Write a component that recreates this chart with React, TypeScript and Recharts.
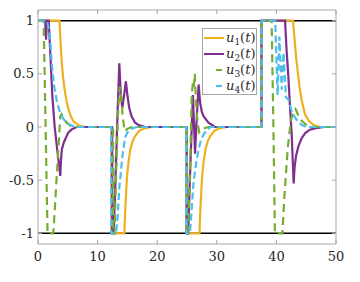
import React from 'react';
import { LineChart, Line, XAxis, YAxis } from 'recharts';

type P = [number, number];

// time ticks and value ticks
const xTicks = [0, 10, 20, 30, 40, 50];
const yTicks = [-1, -0.5, 0, 0.5, 1];

// saturation bounds
const upperBound: P[] = [[0, 1], [50, 1]];
const lowerBound: P[] = [[0, -1], [50, -1]];

// u1(t)
const u1: P[] = [
  [0, 1], [3.6, 1], [3.7, 0.9], [3.8, 0.78], [4.0, 0.6], [4.2, 0.47], [4.5, 0.34], [4.8, 0.24],
  [5.1, 0.17], [5.5, 0.1], [6.0, 0.05], [7.0, 0.01], [8.0, 0],
  [12.3, 0], [12.3, -1], [14.5, -1], [14.55, -0.9], [14.65, -0.77], [14.8, -0.6], [14.95, -0.46],
  [15.2, -0.32], [15.5, -0.21], [15.9, -0.13], [16.3, -0.085], [17.0, -0.035], [18.0, -0.01], [19.0, 0],
  [24.9, 0], [24.9, -1], [27.1, -1], [27.15, -0.9], [27.25, -0.77], [27.4, -0.6], [27.55, -0.46],
  [27.8, -0.32], [28.1, -0.21], [28.5, -0.13], [28.9, -0.085], [29.6, -0.035], [30.6, -0.01], [31.6, 0],
  [37.5, 0], [37.5, 1], [42.8, 1], [42.9, 0.92], [43.1, 0.79], [43.35, 0.63], [43.67, 0.48],
  [43.9, 0.37], [44.2, 0.26], [44.8, 0.12], [45.4, 0.06], [46.2, 0.02], [47.2, 0], [50, 0],
];

// u2(t)
const u2: P[] = [
  [0, 1], [1.2, 1], [1.35, 0.82], [1.5, 1], [1.8, 1], [2.1, 0.65], [2.4, 0.3], [2.8, 0.0],
  [3.3, -0.25], [3.74, -0.46], [3.85, -0.32], [4.0, -0.21], [4.3, -0.15], [4.6, -0.11],
  [5.1, -0.05], [5.7, -0.02], [6.5, 0],
  [12.45, 0], [12.45, -1], [12.7, -1], [13.0, -0.5], [13.3, 0.05], [13.64, 0.6], [13.9, 0.3],
  [14.15, 0.18], [14.45, 0.3], [14.75, 0.43], [15.0, 0.3], [15.3, 0.18], [15.7, 0.1], [16.3, 0.04],
  [17.0, 0.015], [18.0, 0],
  [24.95, 0], [24.95, -1], [25.2, -1], [25.6, -0.3], [26.0, 0.3], [26.35, -0.25], [26.65, 0.1],
  [26.95, 0.4], [27.2, 0.23], [27.5, 0.14], [27.8, 0.1], [28.6, 0.04], [29.7, 0],
  [37.5, 0], [37.5, 1], [41.45, 1], [41.7, 0.73], [42.0, 0.48], [42.3, 0.17], [42.55, -0.05],
  [42.9, -0.53], [43.05, -0.38], [43.3, -0.27], [43.7, -0.18], [44.2, -0.11], [44.8, -0.06],
  [45.6, -0.025], [46.6, -0.01], [48, 0], [50, 0],
];

// u3(t)
const u3: P[] = [
  [0, 1], [0.95, 1], [1.6, -1], [2.5, -1], [2.62, -0.96], [3.0, -0.6], [3.4, -0.22], [3.74, 0.1],
  [3.95, 0.12], [4.3, 0.08], [4.8, 0.04], [5.5, 0.01], [6.5, 0],
  [12.6, 0], [12.6, -1], [12.85, -1], [13.1, -0.45], [13.4, 0.1], [13.7, 0.38], [13.95, 0.3],
  [14.2, 0.1], [14.55, -0.04], [14.9, -0.02], [15.5, -0.005], [16.0, 0],
  [25.0, 0], [25.0, -1], [25.2, -1], [25.5, -0.4], [25.8, 0.3], [26.0, 0.42], [26.15, 0.38],
  [26.3, 0.5], [26.5, 0.25], [26.75, 0.05], [27.05, -0.05], [27.4, -0.03], [28.0, -0.01], [28.6, 0],
  [37.5, 0], [37.5, 1], [39.2, 1], [39.5, 0], [39.75, -1], [41.0, -1], [41.4, -0.6], [41.9, -0.2],
  [42.4, 0.05], [42.8, 0.15], [43.2, 0.17], [43.6, 0.12], [44.2, 0.06], [45.0, 0.02], [46.0, 0], [50, 0],
];

// u4(t)
const u4: P[] = [
  [0, 1], [1.5, 1], [1.95, 0.89], [2.35, 0.57], [2.73, 0.38], [3.2, 0.23], [3.74, 0.13],
  [4.2, 0.08], [4.8, 0.04], [5.6, 0.015], [6.5, 0],
  [12.3, 0], [12.3, -1], [13.1, -1], [13.35, -0.85], [13.65, -0.57], [14.15, -0.28], [14.6, -0.1],
  [15.0, -0.05], [15.6, -0.02], [16.5, 0],
  [24.88, 0], [24.88, -1], [25.5, -1], [25.75, -0.8], [26.1, -0.52], [26.5, -0.35], [26.95, -0.21],
  [27.4, -0.11], [27.8, -0.07], [28.3, -0.03], [29.0, 0],
  [37.5, 0], [37.5, 1], [39.8, 1], [40.2, 0.3], [40.5, 0.85], [40.9, 0.35], [41.2, 0.7],
  [41.6, 0.28], [42.0, 0.26], [42.5, 0.16], [43.0, 0.1], [43.5, 0.06], [44.2, 0.02], [45.0, 0], [50, 0],
];

const seriesNames = ['1', '2', '3', '4'];
const colors = ['#EDB120', '#7E2F8E', '#77AC30', '#4DBEEE'];
const dashes = ['', '', '8 5', '7 3.5'];

const rows = (a: P[]) => a.map(([t, v]) => ({ t, v }));

const FONT = 'DejaVu Serif';
const FRAME = '#a6a6a6';
const tickStyle = { fontSize: 13, fontFamily: FONT, fill: '#262626' };

const LegendBox = () => (
  <div
    style={{
      position: 'absolute',
      left: 202,
      top: 28,
      width: 55,
      height: 67,
      border: `1px solid ${FRAME}`,
      background: '#fff',
      boxSizing: 'border-box',
      fontFamily: FONT,
      fontSize: 13,
      color: '#262626',
    }}
  >
    {seriesNames.map((n, i) => (
      <div
        key={n}
        style={{ position: 'absolute', left: 0, top: 1 + i * 16, height: 16, width: 55, display: 'flex', alignItems: 'center' }}
      >
        <svg width={22} height={16} style={{ flex: 'none' }}>
          {i < 2 ? (
            <line x1={1} y1={8} x2={21} y2={8} stroke={colors[i]} strokeWidth={2} />
          ) : (
            <line x1={13} y1={8} x2={19} y2={8} stroke={colors[i]} strokeWidth={2} />
          )}
        </svg>
        <span style={{ whiteSpace: 'nowrap', lineHeight: '16px', marginLeft: 1 }}>
          <i>u</i>
          <span style={{ fontSize: 9, position: 'relative', top: 3 }}>{n}</span>(<i>t</i>)
        </span>
      </div>
    ))}
  </div>
);

export default function App() {
  return (
    <div style={{ position: 'absolute', left: 0, top: 0, width: 360, height: 282, background: '#fff', fontFamily: FONT }}>
      <LineChart width={360} height={282} margin={{ top: 0, right: 0, bottom: 0, left: 0 }} style={{ fontFamily: FONT }}>
        <XAxis
          xAxisId="b"
          dataKey="t"
          type="number"
          domain={[0, 50]}
          ticks={xTicks}
          allowDataOverflow
          height={38}
          stroke={FRAME}
          tickSize={-4}
          tickMargin={12}
          tick={tickStyle}
        />
        <XAxis
          xAxisId="top"
          orientation="top"
          dataKey="t"
          type="number"
          domain={[0, 50]}
          ticks={xTicks}
          allowDataOverflow
          height={10}
          stroke={FRAME}
          tickSize={-4}
          tickFormatter={() => ''}
        />
        <YAxis
          yAxisId="l"
          type="number"
          domain={[-1.1, 1.1]}
          ticks={yTicks}
          allowDataOverflow
          width={38}
          stroke={FRAME}
          tickSize={-4}
          tickMargin={8}
          tick={tickStyle}
        />
        <YAxis
          yAxisId="right"
          orientation="right"
          type="number"
          domain={[-1.1, 1.1]}
          ticks={yTicks}
          allowDataOverflow
          width={24}
          stroke={FRAME}
          tickSize={-4}
          tickFormatter={() => ''}
        />
        <Line xAxisId="b" yAxisId="l" data={rows(upperBound)} dataKey="v" stroke="#000" strokeWidth={1.5} dot={false} isAnimationActive={false} />
        <Line xAxisId="b" yAxisId="l" data={rows(lowerBound)} dataKey="v" stroke="#000" strokeWidth={1.5} dot={false} isAnimationActive={false} />
        {[u1, u2, u3, u4].map((s, i) => (
          <Line
            key={i}
            xAxisId="b"
            yAxisId="l"
            data={rows(s)}
            dataKey="v"
            type="linear"
            stroke={colors[i]}
            strokeWidth={2.2}
            strokeDasharray={dashes[i] || undefined}
            dot={false}
            isAnimationActive={false}
          />
        ))}
      </LineChart>
      <LegendBox />
    </div>
  );
}
